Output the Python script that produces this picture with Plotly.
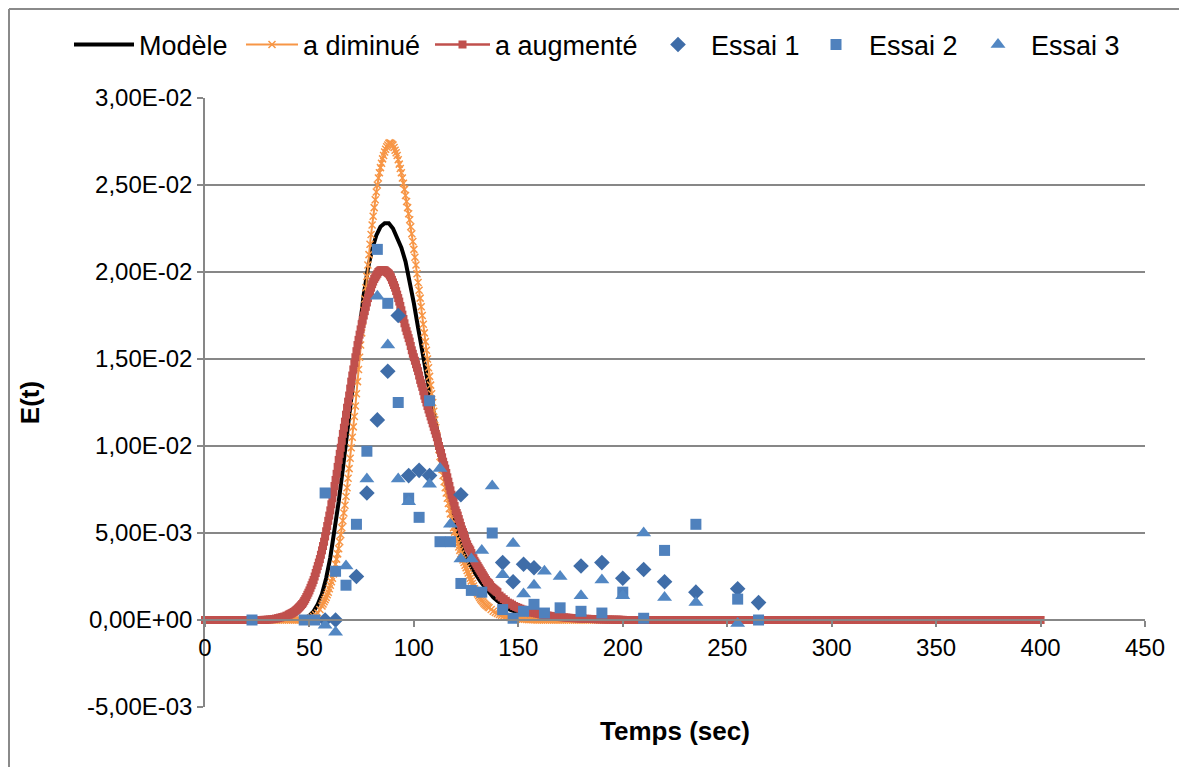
import plotly.graph_objects as go

# ---------------- data ----------------
# Model curve (step 2 s)
model_t = list(range(0, 401, 2))
model_active_start = 44
model_active = [0.00001, 0.00004, 0.0001, 0.00025, 0.0005, 0.0009, 0.0015, 0.0024, 0.0036, 0.0051,
                0.0068, 0.0087, 0.0107, 0.0128, 0.0149, 0.0169, 0.0187, 0.0202, 0.0213, 0.0221,
                0.0226, 0.0228, 0.0228, 0.0225, 0.0220, 0.0214, 0.0206, 0.0195, 0.0182, 0.0168,
                0.0154, 0.0140, 0.0128, 0.0116, 0.0103, 0.0089, 0.0076, 0.0064, 0.0053, 0.0045,
                0.0038, 0.0033, 0.0029, 0.0025, 0.0022, 0.0019, 0.0016, 0.0013, 0.0011, 0.0009,
                0.00074, 0.0006, 0.0005, 0.0004, 0.00032, 0.00026, 0.0002, 0.00016, 0.00012, 0.00009,
                0.00007, 0.00005, 0.00004, 0.00003, 0.00002, 0.00001]
n0 = model_active_start // 2
model_E = [0.0] * n0 + model_active + [0.0] * (len(model_t) - n0 - len(model_active))

# "a diminué" curve: (start time, time step, values) – baseline is zero elsewhere
dim_rise = (46, 1, [0.0, 0.00001, 0.00002, 0.00005, 0.00008, 0.00013, 0.0002, 0.0003, 0.0004, 0.0006])
dim_peak = (56, 0.5, [
    0.0008, 0.00092, 0.00105, 0.00117, 0.0013, 0.00145, 0.0016, 0.0018, 0.002, 0.0022,
    0.0024, 0.00265, 0.0029, 0.0032, 0.0035, 0.0038, 0.0041, 0.0045, 0.0049, 0.0053,
    0.0057, 0.00615, 0.0066, 0.0071, 0.0076, 0.00815, 0.0087, 0.0093, 0.0099, 0.0105,
    0.0111, 0.0117, 0.0123, 0.013, 0.0137, 0.0144, 0.0151, 0.0158, 0.0165, 0.01715,
    0.0178, 0.01845, 0.0191, 0.01975, 0.0204, 0.021, 0.0216, 0.02215, 0.0227, 0.0232,
    0.0237, 0.02415, 0.0246, 0.025, 0.0254, 0.0257, 0.026, 0.02625, 0.0265, 0.0267,
    0.0269, 0.02705, 0.0272, 0.0273, 0.0274, 0.02742, 0.0274, 0.02735, 0.0273, 0.02715,
    0.027, 0.02685, 0.0267, 0.02645, 0.0262, 0.02595, 0.0257, 0.0254, 0.0251, 0.02475,
    0.0244, 0.02405, 0.0237, 0.02335, 0.023, 0.0226, 0.0222, 0.02175, 0.0213, 0.02085,
    0.0204, 0.0199, 0.0194, 0.01895, 0.0185, 0.018, 0.0175, 0.017, 0.0165, 0.016,
    0.0155, 0.015, 0.0145, 0.014, 0.0135, 0.013, 0.0125, 0.012, 0.0115, 0.01105,
    0.0106, 0.0102, 0.0098, 0.0094, 0.009, 0.00865, 0.0083, 0.00795, 0.0076, 0.0073,
    0.007, 0.0067, 0.0064, 0.0061, 0.0058, 0.00555, 0.0053, 0.00505, 0.0048, 0.0046,
    0.0044, 0.0042, 0.004, 0.0038, 0.0036, 0.00345, 0.0033, 0.00315, 0.003, 0.00285,
    0.0027, 0.00255, 0.0024, 0.00225, 0.0021, 0.00195, 0.0018, 0.0017, 0.0016, 0.0015,
    0.0014, 0.0013, 0.0012, 0.00112, 0.00105, 0.00097, 0.0009, 0.00085, 0.0008, 0.00075])
dim_tail = (136, 1, [0.0007, 0.0006, 0.0005, 0.00043, 0.00037, 0.00032, 0.00027, 0.00023, 0.0002, 0.00017,
                     0.00014, 0.00012, 0.0001, 0.00008, 0.00007, 0.00006, 0.00005, 0.00004, 0.00003, 0.00002,
                     0.00002, 0.00001, 0.00001])

# "a augmenté" curve
aug_rise = (28, 1, [0.00001, 0.00001, 0.00002, 0.00003, 0.00004, 0.00006, 0.00008, 0.00011, 0.00014, 0.00017,
                    0.0002, 0.00025])
aug_peak = (40, 0.5, [
    0.0003, 0.00033, 0.00036, 0.00039, 0.00042, 0.00046, 0.0005, 0.00055, 0.0006, 0.00066,
    0.00072, 0.00078, 0.00085, 0.00092, 0.001, 0.0011, 0.0012, 0.00132, 0.00145, 0.00157,
    0.0017, 0.00185, 0.002, 0.00215, 0.0023, 0.0025, 0.0027, 0.0029, 0.0031, 0.0033,
    0.0035, 0.00375, 0.004, 0.00425, 0.0045, 0.0048, 0.0051, 0.0054, 0.0057, 0.006,
    0.0063, 0.00665, 0.007, 0.00735, 0.0077, 0.00805, 0.0084, 0.0088, 0.0092, 0.00955,
    0.0099, 0.0103, 0.0107, 0.01105, 0.0114, 0.0118, 0.0122, 0.01255, 0.0129, 0.0133,
    0.0137, 0.01405, 0.0144, 0.01475, 0.0151, 0.01545, 0.0158, 0.0161, 0.0164, 0.0167,
    0.017, 0.01725, 0.0175, 0.01775, 0.018, 0.01825, 0.0185, 0.0187, 0.0189, 0.0191,
    0.0193, 0.01945, 0.0196, 0.0197, 0.0198, 0.0199, 0.02, 0.02005, 0.0201, 0.0201,
    0.0201, 0.0201, 0.0201, 0.02005, 0.02, 0.01995, 0.0199, 0.0198, 0.0197, 0.01955,
    0.0194, 0.01925, 0.0191, 0.0189, 0.0187, 0.0185, 0.0183, 0.01805, 0.0178, 0.01755,
    0.0173, 0.01705, 0.0168, 0.0166, 0.0164, 0.0162, 0.016, 0.01575, 0.0155, 0.0153,
    0.0151, 0.0149, 0.0147, 0.0145, 0.0143, 0.01405, 0.0138, 0.0136, 0.0134, 0.01315,
    0.0129, 0.0127, 0.0125, 0.0123, 0.0121, 0.0119, 0.0117, 0.0115, 0.0113, 0.0111,
    0.0109, 0.0107, 0.0105, 0.01025, 0.01, 0.0098, 0.0096, 0.00935, 0.0091, 0.0089,
    0.0087, 0.00845, 0.0082, 0.00795, 0.0077, 0.00745, 0.0072, 0.007, 0.0068, 0.00655,
    0.0063, 0.00615, 0.006, 0.0058, 0.0056, 0.0054, 0.0052, 0.00505, 0.0049, 0.0047,
    0.0045, 0.00435, 0.0042, 0.0041, 0.004, 0.00385, 0.0037, 0.00355, 0.0034, 0.0033,
    0.0032, 0.0031, 0.003, 0.0029, 0.0028, 0.0027, 0.0026, 0.0025, 0.0024, 0.0023,
    0.0022, 0.00215, 0.0021, 0.002, 0.0019, 0.00185, 0.0018, 0.00175, 0.0017, 0.00165])
aug_tail = (140, 1, [0.0016, 0.0014, 0.0013, 0.0012, 0.0011, 0.001, 0.00095, 0.00088,
                     0.0008, 0.00075, 0.0007, 0.00065, 0.0006, 0.00055, 0.0005, 0.00047, 0.00045, 0.00042,
                     0.0004, 0.00037, 0.00035, 0.00032, 0.0003, 0.00028, 0.00026, 0.00024, 0.00022, 0.0002,
                     0.00019, 0.00018, 0.00017, 0.00016, 0.00015, 0.00014, 0.00013, 0.00012, 0.00011, 0.0001,
                     0.0001, 0.00009, 0.00008, 0.00008, 0.00007, 0.00007, 0.00006, 0.00006, 0.00005, 0.00005,
                     0.00004, 0.00004, 0.00004, 0.00003, 0.00003, 0.00003, 0.00003, 0.00002, 0.00002, 0.00002,
                     0.00002, 0.00001, 0.00001])

T_END = 400


def assemble(segments):
    """Place the read segments on the time axis; the curve sits on the zero baseline elsewhere."""
    ts, es = [], []
    cur = 0
    for start, step, vals in segments:
        while cur < start:
            ts.append(cur)
            es.append(0.0)
            cur += 1
        for i, v in enumerate(vals):
            ts.append(start + i * step)
            es.append(v)
        cur = start + len(vals) * step
    cur = int(round(cur))
    while cur <= T_END:
        ts.append(cur)
        es.append(0.0)
        cur += 1
    return ts, es


dim_t, dim_E = assemble([dim_rise, dim_peak, dim_tail])
aug_t, aug_E = assemble([aug_rise, aug_peak, aug_tail])

# Experimental runs
essai1_t = [57.5, 62.5, 72.5, 77.5, 82.5, 87.5, 92.5, 97.5, 102.5, 107.5, 122.5, 142.5, 147.5,
            152.5, 157.5, 180, 190, 200, 210, 220, 235, 255, 265]
essai1_E = [0.0, 0.0, 0.0025, 0.0073, 0.0115, 0.0143, 0.0175, 0.0083, 0.0086, 0.0083, 0.0072, 0.0033,
            0.0022, 0.0032, 0.0030, 0.0031, 0.0033, 0.0024, 0.0029, 0.0022, 0.0016, 0.0018, 0.0010]

essai2_t = [22.5, 47.5, 52.5, 57.5, 62.5, 67.5, 72.5, 77.5, 82.5, 87.5, 92.5, 97.5, 102.5, 107.5,
            112.5, 117.5, 122.5, 127.5, 132.5, 137.5, 142.5, 147.5, 152.5, 157.5, 162.5, 170, 180,
            190, 200, 210, 220, 235, 255, 265]
essai2_E = [0.0, 0.0, 0.0, 0.0073, 0.0028, 0.0020, 0.0055, 0.0097, 0.0213, 0.0182, 0.0125, 0.0070,
            0.0059, 0.0126, 0.0045, 0.0045, 0.0021, 0.0017, 0.0016, 0.0050, 0.0006, 0.0001, 0.0005,
            0.0009, 0.0004, 0.0007, 0.0005, 0.0004, 0.0016, 0.0001, 0.0040, 0.0055, 0.0012, 0.0]

essai3_t = [57.5, 62.5, 67.5, 77.5, 82.5, 87.5, 92.5, 97.5, 107.5, 112.5, 117.5, 122.5, 127.5, 132.5,
            137.5, 142.5, 147.5, 152.5, 157.5, 162.5, 170, 180, 190, 200, 210, 220, 235, 255]
essai3_E = [-0.0003, -0.0007, 0.0031, 0.0081, 0.0186, 0.0158, 0.0081, 0.0068, 0.0078, 0.0087, 0.0055,
            0.0035, 0.0035, 0.0040, 0.0077, 0.0026, 0.0044, 0.0015, 0.0020, 0.0028, 0.0025, 0.0014,
            0.0023, 0.0014, 0.0050, 0.0013, 0.0010, -0.0002]

x_tick_vals = [0, 50, 100, 150, 200, 250, 300, 350, 400, 450]
y_tick_vals = [-0.005, 0.0, 0.005, 0.01, 0.015, 0.02, 0.025, 0.03]
y_tick_text = ["-5,00E-03", "0,00E+00", "5,00E-03", "1,00E-02", "1,50E-02", "2,00E-02", "2,50E-02", "3,00E-02"]

# ---------------- figure ----------------
FONT = "Liberation Sans, Arial, sans-serif"
GRAY = "#878787"
OFF = 8                      # default page margin of the html body
W, H = 1187 - OFF, 767 - OFF
PL, PR, PT, PB = 205, 1145, 98, 707   # plot area in page pixels
ML, MT = PL - OFF, PT - OFF
MR = W - (PR - OFF)
MB = H - (PB - OFF)
PW, PH = PR - PL, PB - PT


def px_x(px):
    return (px - PL) / PW


def px_y(py):
    return (PB - py) / PH


fig = go.Figure()

fig.add_trace(go.Scatter(x=model_t, y=model_E, mode="lines", name="Modèle",
                         line=dict(color="black", width=4), legend="legend",
                         cliponaxis=False))
fig.add_trace(go.Scatter(x=dim_t, y=dim_E, mode="lines+markers", name="a diminué",
                         line=dict(color="#F79646", width=2),
                         marker=dict(symbol="x-thin", size=7, color="#F79646",
                                     line=dict(color="#F79646", width=1.5)),
                         legend="legend2", cliponaxis=False))
fig.add_trace(go.Scatter(x=aug_t, y=aug_E, mode="lines+markers", name="a augmenté",
                         line=dict(color="#C0504D", width=2.5),
                         marker=dict(symbol="square", size=8, color="#C0504D"),
                         legend="legend3", cliponaxis=False))
fig.add_trace(go.Scatter(x=essai1_t, y=essai1_E, mode="markers", name="Essai 1",
                         marker=dict(symbol="diamond", size=12, color="#3F6DA8"),
                         legend="legend4"))
fig.add_trace(go.Scatter(x=essai2_t, y=essai2_E, mode="markers", name="Essai 2",
                         marker=dict(symbol="square", size=11, color="#4F81BD"),
                         legend="legend5"))
fig.add_trace(go.Scatter(x=essai3_t, y=essai3_E, mode="markers", name="Essai 3",
                         marker=dict(symbol="triangle-up", size=13, color="#5287C3"),
                         legend="legend6"))

leg_common = dict(orientation="h", xanchor="left", yanchor="middle",
                  bgcolor="rgba(0,0,0,0)", borderwidth=0,
                  font=dict(family=FONT, size=27, color="black"))
legend_left_px = [69, 241, 430, 645, 803, 965]
legend_item_width = [60, 52, 55, 56, 56, 56]
ly = px_y(45)
layout_legends = {}
for i, (lx, iw) in enumerate(zip(legend_left_px, legend_item_width)):
    key = "legend" if i == 0 else f"legend{i+1}"
    layout_legends[key] = dict(x=px_x(lx), y=ly, itemwidth=iw, **leg_common)

fig.update_layout(
    width=W, height=H,
    margin=dict(l=ML, r=MR, t=MT, b=MB),
    paper_bgcolor="white", plot_bgcolor="white",
    showlegend=True,
    **layout_legends,
    xaxis=dict(range=[0, 450], tickvals=x_tick_vals, showgrid=False, zeroline=False,
               showline=True, linecolor=GRAY, linewidth=1.5,
               anchor="free", position=0.005 / 0.035,
               ticks="outside", ticklen=6, tickcolor=GRAY, tickwidth=1.5,
               tickfont=dict(family=FONT, size=24, color="black"),
               title=dict(text="Temps (sec)", standoff=61,
                          font=dict(family=FONT, size=26, color="black", weight="bold"))),
    yaxis=dict(range=[-0.005, 0.03], tickvals=y_tick_vals, ticktext=y_tick_text,
               showgrid=True, gridcolor=GRAY, gridwidth=1.5, zeroline=False,
               showline=True, linecolor=GRAY, linewidth=1.5,
               ticks="outside", ticklen=6, tickcolor=GRAY, tickwidth=1.5,
               tickfont=dict(family=FONT, size=24, color="black"),
               title=dict(text="E(t)", standoff=40,
                          font=dict(family=FONT, size=26, color="black", weight="bold"))),
    shapes=[
        dict(type="line", xref="paper", yref="paper", x0=px_x(9), x1=px_x(9),
             y0=px_y(9), y1=px_y(800), line=dict(color="#8A8A8A", width=2)),
        dict(type="line", xref="paper", yref="paper", x0=px_x(9), x1=px_x(1250),
             y0=px_y(9), y1=px_y(9), line=dict(color="#8A8A8A", width=2)),
    ],
)

fig.write_html("out.html")
